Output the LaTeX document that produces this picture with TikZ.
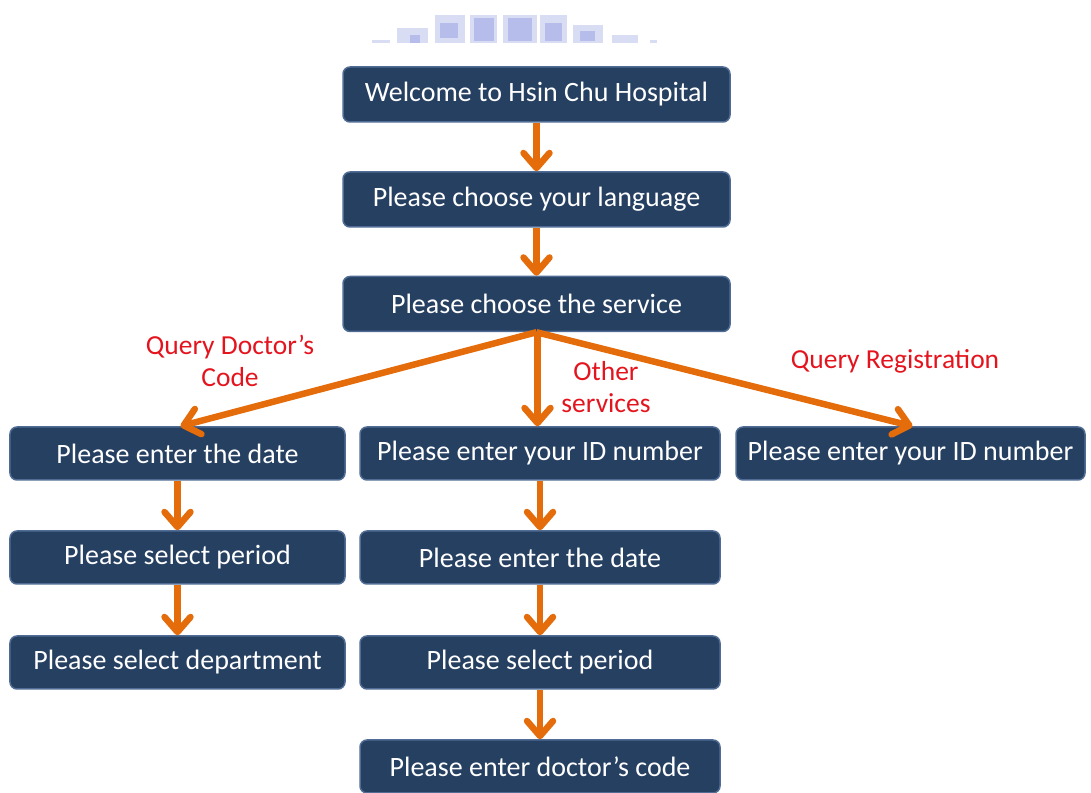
\documentclass[tikz,border=0pt]{standalone}
\usepackage{fontspec}
\setmainfont{Carlito}
\usetikzlibrary{arrows.meta}
\definecolor{boxfill}{RGB}{38,64,98}
\definecolor{boxline}{RGB}{80,108,148}
\definecolor{arr}{RGB}{228,108,10}
\definecolor{lab}{RGB}{228,20,30}
\definecolor{blurA}{RGB}{168,176,232}
\definecolor{blurB}{RGB}{200,206,240}
\tikzset{
  stepbox/.style={draw=boxline, line width=1.5bp, fill=boxfill, rounded corners=7bp,
    text=white, font=\fontsize{28bp}{32bp}\selectfont, inner sep=0pt, anchor=center},
  wide/.style={minimum width=387bp, minimum height=55bp},
  colL/.style={minimum width=335bp, minimum height=53bp},
  colM/.style={minimum width=360bp, minimum height=53bp},
  colR/.style={minimum width=349bp, minimum height=53bp},
  flow/.style={draw=arr, line width=6.5bp, -{Straight Barb[length=15bp,width=26bp,round]}},
  lbl/.style={text=lab, font=\fontsize{27.5bp}{32bp}\selectfont, align=center, inner sep=0pt}
}
\begin{document}
\begin{tikzpicture}[x=1bp,y=1bp]
\useasboundingbox (0,0) rectangle (1091,793);
% blurred title (unreadable in the reference)
\begin{scope}[fill opacity=0.7]
\fill[blurB] (372,750) rectangle (390,753);
\fill[blurB] (397,750) rectangle (428,765);
\fill[blurA] (410,750) rectangle (420,758);
\fill[blurB] (435,750) rectangle (465,778);
\fill[blurA] (440,755) rectangle (458,770);
\fill[blurB] (470,750) rectangle (497,778);
\fill[blurA] (474,752) rectangle (494,775);
\fill[blurB] (503,750) rectangle (537,778);
\fill[blurA] (508,752) rectangle (532,775);
\fill[blurB] (540,750) rectangle (567,778);
\fill[blurA] (545,752) rectangle (562,770);
\fill[blurB] (573,750) rectangle (603,768);
\fill[blurA] (580,752) rectangle (595,762);
\fill[blurB] (612,750) rectangle (638,758);
\fill[blurB] (650,750) rectangle (657,753);
\end{scope}

\node[stepbox,wide] (welcome) at (536.5,698.5) {Welcome to Hsin Chu Hospital};
\node[stepbox,wide] (lang) at (536.5,593.5) {Please choose your language};
\node[stepbox,wide] (service) at (536.5,489) {Please choose the service};

\node[stepbox,colL] (l1) at (177.5,339.5) {Please enter the date};
\node[stepbox,colL] (l2) at (177.5,235.5) {Please select period};
\node[stepbox,colL] (l3) at (177.5,130.5) {Please select department};

\node[stepbox,colM] (m1) at (540,339.5) {Please enter your ID number};
\node[stepbox,colM] (m2) at (540,235.5) {Please enter the date};
\node[stepbox,colM] (m3) at (540,130.5) {Please select period};
\node[stepbox,colM] (m4) at (540,26.5) {Please enter doctor’s code};

\node[stepbox,colR] (r1) at (910.5,339.5) {Please enter your ID number};

\draw[flow] (welcome.south) -- (lang.north);
\draw[flow] (lang.south) -- (service.north);
\draw[flow] (service.south) -- ([xshift=3bp]l1.north);
\draw[flow] ([xshift=1bp]service.south) -- ([xshift=1bp]service.south |- m1.north);
\draw[flow] (service.south) -- ([xshift=2bp]r1.north);

\draw[flow] (l1.south) -- (l2.north);
\draw[flow] (l2.south) -- (l3.north);
\draw[flow] (m1.south) -- (m2.north);
\draw[flow] (m2.south) -- (m3.north);
\draw[flow] (m3.south) -- (m4.north);

\node[lbl] (q1) at (230,432) {Query Doctor’s\\Code};
\node[lbl] (q2) at (606,406) {Other\\services};
\node[lbl] (q3) at (895,432) {Query Registration};
\end{tikzpicture}
\end{document}
